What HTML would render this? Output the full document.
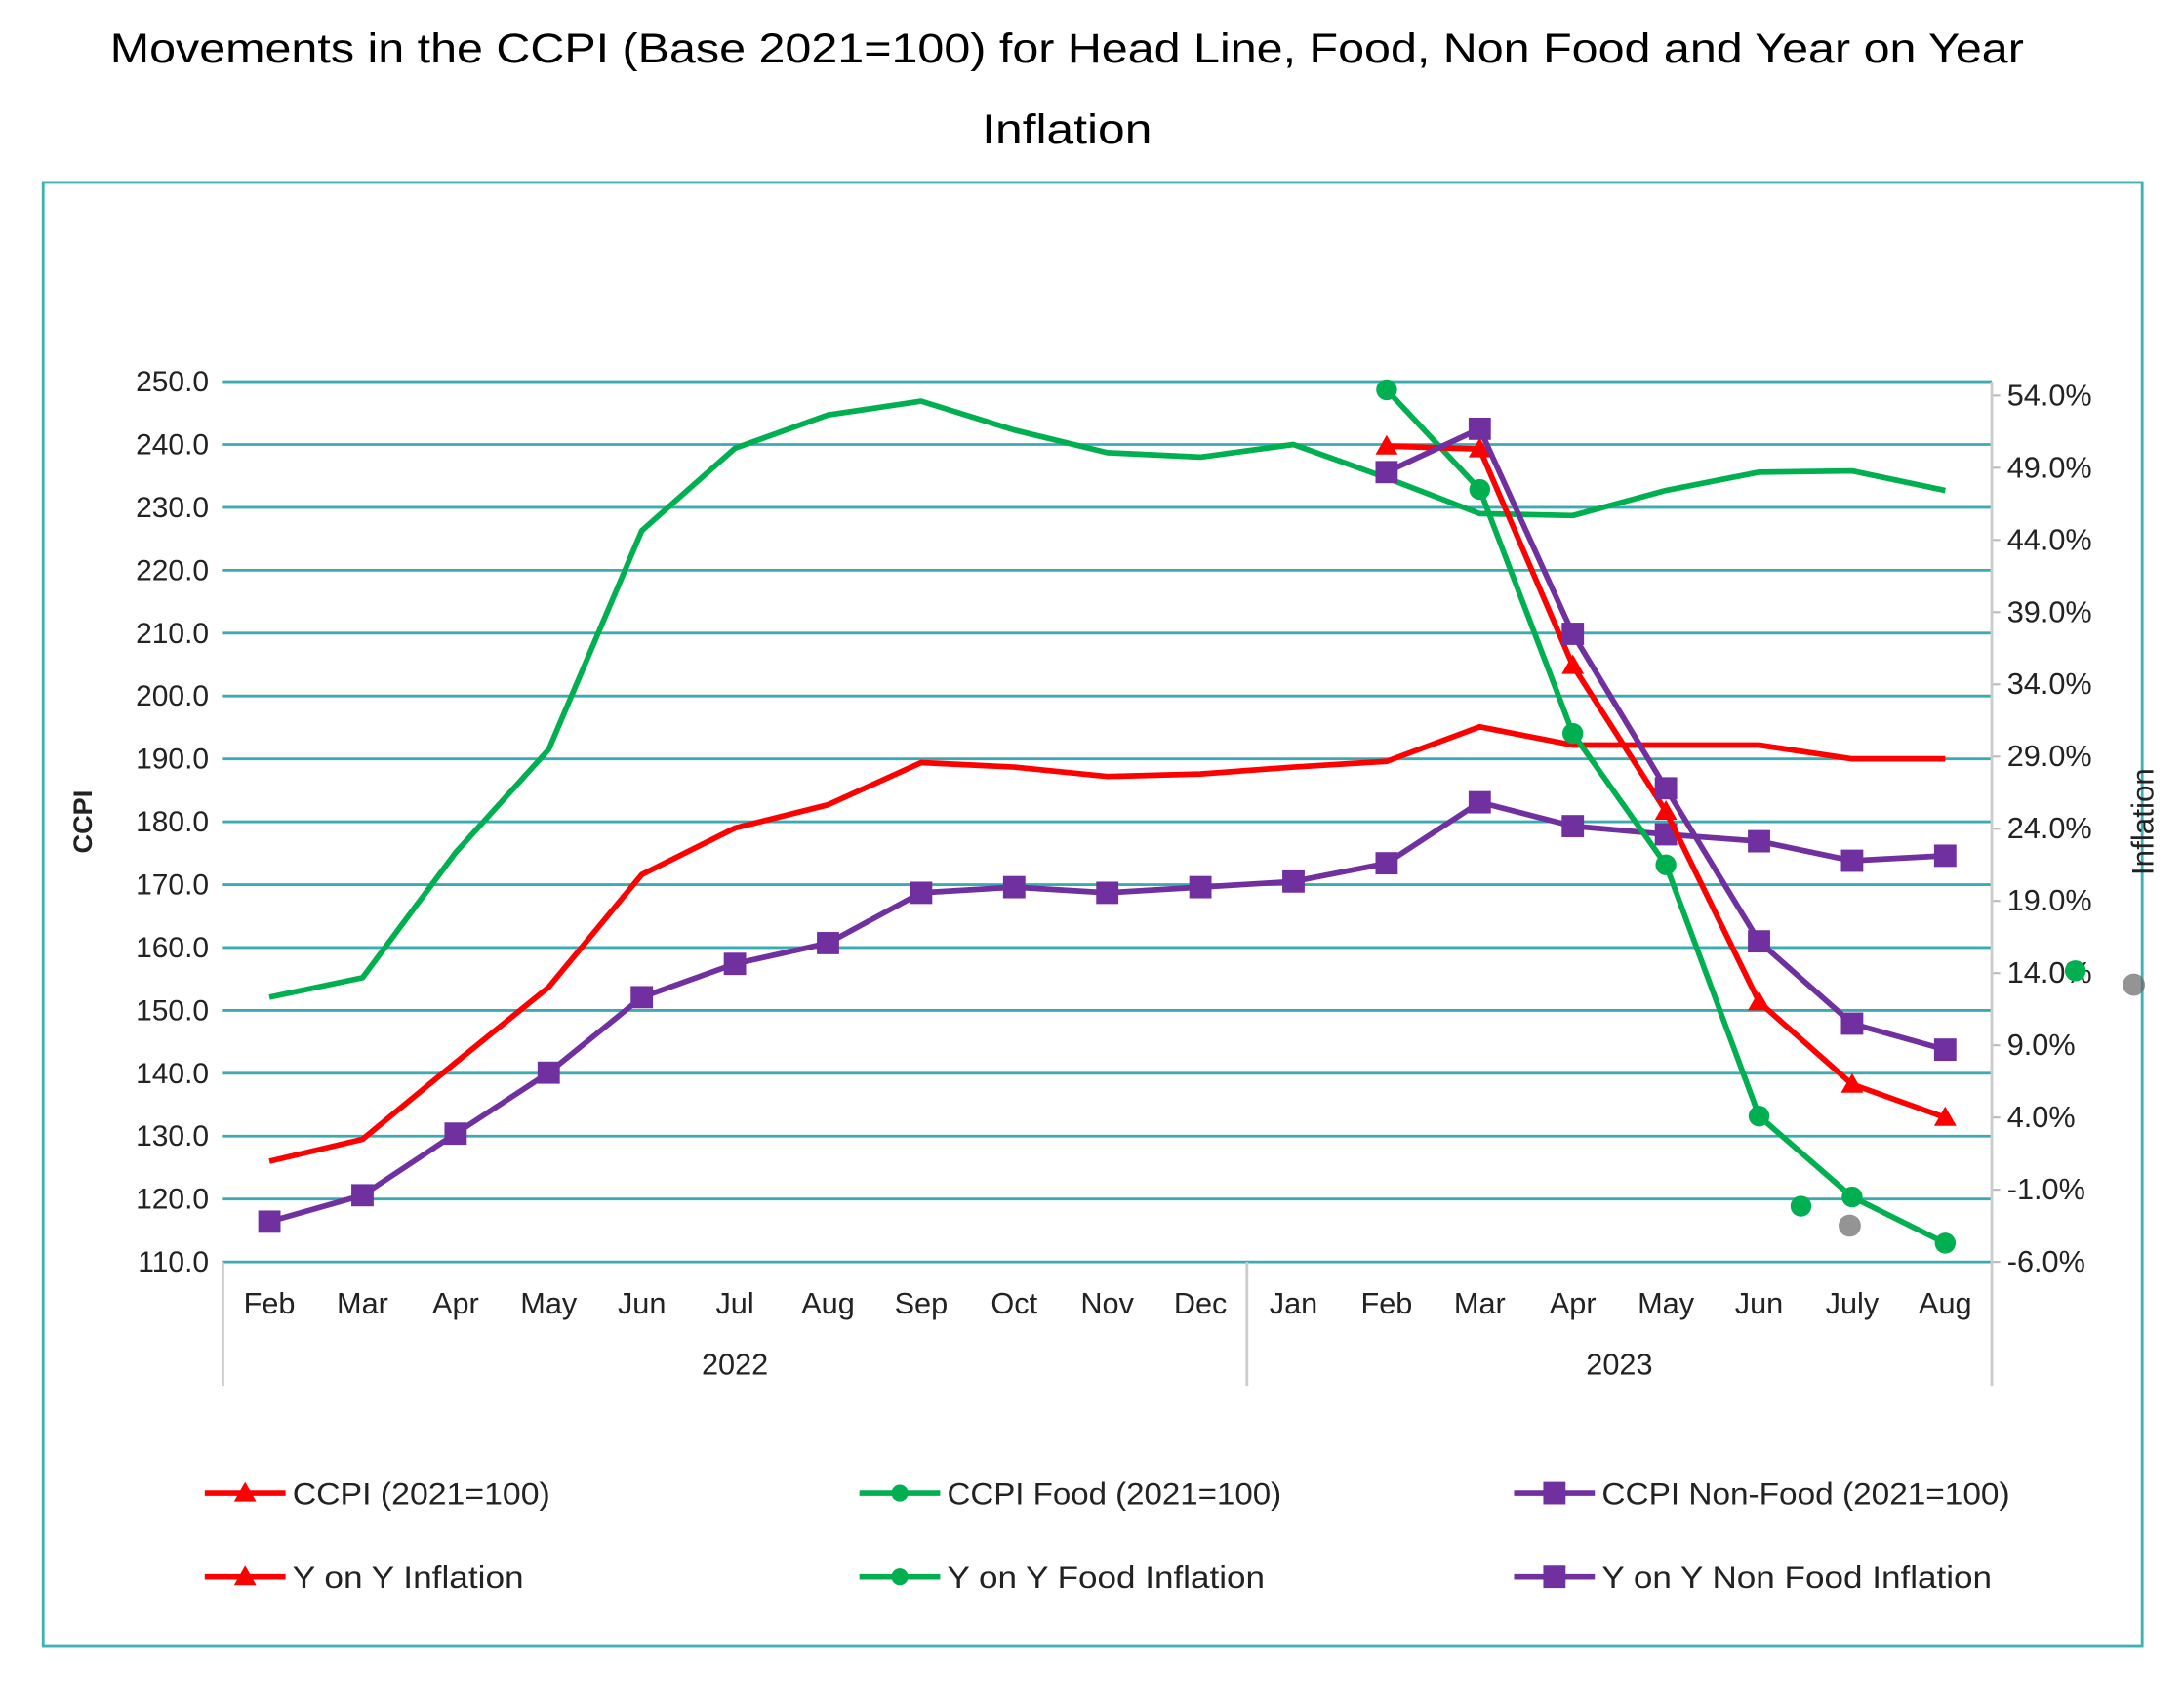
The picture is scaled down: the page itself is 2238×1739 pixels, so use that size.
<!DOCTYPE html>
<html><head><meta charset="utf-8"><style>
html,body{margin:0;padding:0;background:#fff;}
svg{display:block;font-family:"Liberation Sans",sans-serif;}
</style></head><body>
<svg id="chart" width="2238" height="1739" viewBox="0 0 1568 1218.4" preserveAspectRatio="none" xmlns="http://www.w3.org/2000/svg">
<text x="766" y="45" font-size="30" text-anchor="middle" fill="#000" textLength="1374" lengthAdjust="spacingAndGlyphs">Movements in the CCPI (Base 2021=100) for Head Line, Food, Non Food and Year on Year</text>
<text x="766" y="103" font-size="30" text-anchor="middle" fill="#000" textLength="122" lengthAdjust="spacingAndGlyphs">Inflation</text>
<rect x="31" y="131" width="1507" height="1051" fill="none" stroke="#3fb3b3" stroke-width="2"/>
<g id="grid"></g><g id="axes"></g><g id="series"></g><g id="legend"></g>
<text transform="translate(66,590) rotate(-90)" font-size="19" font-weight="bold" text-anchor="middle" fill="#222">CCPI</text>
<text transform="translate(1546,590) rotate(-90)" font-size="22" text-anchor="middle" fill="#222">Inflation</text>
</svg>
<script>
const months=["Feb","Mar","Apr","May","Jun","Jul","Aug","Sep","Oct","Nov","Dec","Jan","Feb","Mar","Apr","May","Jun","July","Aug"];
const years=["2022","2023"];
const leftTicks=[110,120,130,140,150,160,170,180,190,200,210,220,230,240,250];
const rightTicks=[-6,-1,4,9,14,19,24,29,34,39,44,49,54];
const ccpi=[126.0,129.5,141.7,153.7,171.6,179.0,182.7,189.4,188.7,187.2,187.6,188.7,189.6,195.1,192.2,192.2,192.2,190.0,190.0];
const ccpiFood=[152.1,155.2,175.1,191.5,226.3,239.4,244.7,246.9,242.3,238.7,238.0,240.0,234.7,229.0,228.7,232.7,235.6,235.8,232.7];
const ccpiNonFood=[116.4,120.6,130.4,140.1,152.1,157.4,160.7,168.7,169.6,168.7,169.6,170.5,173.4,183.1,179.3,178.0,176.9,173.8,174.6];
const yoyStart=12;
const yoyInfl=[50.5,50.3,35.3,25.2,12.0,6.3,4.0];
const yoyFood=[54.4,47.5,30.6,21.5,4.1,-1.5,-4.7];
const yoyNonFood=[48.7,51.7,37.5,26.8,16.2,10.5,8.7];

const NS="http://www.w3.org/2000/svg";
const X0=160,X1=1430,YB=906,YT=274;
const step=(X1-X0)/months.length;
const xs=i=>X0+step*(i+0.5);
const yL=v=>YB-(v-110)/(250-110)*(YB-YT);
const yR=v=>906-(v+6)/60*(906-284);
function mk(tag,attrs,parent,text){const e=document.createElementNS(NS,tag);for(const k in attrs)e.setAttribute(k,attrs[k]);if(text!==undefined)e.textContent=text;parent.appendChild(e);return e;}
const grid=document.getElementById('grid'),axes=document.getElementById('axes'),ser=document.getElementById('series'),leg=document.getElementById('legend');
leftTicks.forEach(t=>{
  const l=mk('line',{x1:X0,x2:X1,y1:yL(t),y2:yL(t),stroke:'#3aabb0','stroke-width':2},grid);
  
  
  const tx=mk('text',{x:150,y:yL(t)+7,'font-size':21,'text-anchor':'end',fill:'#222'},axes,t.toFixed(1));
  
  
});
rightTicks.forEach(t=>{
  const tx=mk('text',{x:1441,y:yR(t)+7,'font-size':21.5,fill:'#222'},axes,t.toFixed(1)+'%');
  
  
  mk('line',{x1:X1,x2:X1+6,y1:yR(t),y2:yR(t),stroke:'#bbb','stroke-width':1.5},axes);
});
mk('line',{x1:X1,x2:X1,y1:274,y2:995,stroke:'#ccc','stroke-width':2},axes);
[X0,X0+step*11].forEach(x=>mk('line',{x1:x,x2:x,y1:YB,y2:995,stroke:'#ccc','stroke-width':2},axes));
months.forEach((m,i)=>{
  const tx=mk('text',{x:xs(i),y:943,'font-size':21.5,'text-anchor':'middle',fill:'#222'},axes,m);
  
  
});
[[years[0],X0,X0+step*11],[years[1],X0+step*11,X1]].forEach(([y,a,b])=>{
  const tx=mk('text',{x:(a+b)/2,y:987,'font-size':21.5,'text-anchor':'middle',fill:'#222'},axes,y);
  
  
});
function marker(type,x,y,color,parent){
  if(type==='tri')return mk('polygon',{points:`${x},${y-8} ${x-8},${y+6} ${x+8},${y+6}`,fill:color},parent);
  if(type==='circ')return mk('circle',{cx:x,cy:y,r:7.5,fill:color},parent);
  if(type==='sq')return mk('rect',{x:x-8,y:y-8,width:16,height:16,fill:color},parent);
  return null;
}
function series(name,vals,start,yf,color,mtype){
  const g=mk('g',{},ser);
  
  
  const pts=vals.map((v,i)=>`${xs(i+start)},${yf(v)}`).join(' ');
  mk('polyline',{points:pts,fill:'none',stroke:color,'stroke-width':4,'stroke-linejoin':'round'},g);
  if(mtype)vals.forEach((v,i)=>{const m=marker(mtype,xs(i+start),yf(v),color,g);
    
    });
}
const RED='#ff0000',GRN='#00b050',PUR='#7030a0';
series('ccpi-line',ccpi,0,yL,RED,null);
series('ccpi-food-line',ccpiFood,0,yL,GRN,null);
series('ccpi-nonfood-line',ccpiNonFood,0,yL,PUR,'sq');
series('yoy-food-line',yoyFood,yoyStart,yR,GRN,'circ');
series('yoy-inflation-line',yoyInfl,yoyStart,yR,RED,'tri');
series('yoy-nonfood-line',yoyNonFood,yoyStart,yR,PUR,'sq');
mk('circle',{cx:1293,cy:866,r:7.5,fill:GRN},ser);
mk('circle',{cx:1490,cy:697,r:7.5,fill:GRN},ser);
mk('circle',{cx:1328,cy:880,r:8,fill:'#666',opacity:0.7},ser);
mk('circle',{cx:1532,cy:707,r:8,fill:'#666',opacity:0.7},ser);
const legendItems=[["CCPI  (2021=100)",RED,'tri',147,1072,185],["CCPI Food (2021=100)",GRN,'circ',617,1072,240],["CCPI Non-Food (2021=100)",PUR,'sq',1087,1072,293],
["Y on Y  Inflation",RED,'tri',147,1132,166],["Y on Y  Food Inflation",GRN,'circ',617,1132,228],["Y on Y  Non Food Inflation",PUR,'sq',1087,1132,280]];
legendItems.forEach(([t,c,m,x,y,w])=>{
  const g=mk('g',{},leg);
  
  
  mk('line',{x1:x,x2:x+58,y1:y,y2:y,stroke:c,'stroke-width':4},g);
  if(m==='circ')mk('circle',{cx:x+29,cy:y,r:6,fill:c},g);else marker(m,x+29,y,c,g);
  mk('text',{x:x+63,y:y+8,'font-size':22,fill:'#222',textLength:w,lengthAdjust:'spacingAndGlyphs'},g,t);
});
</script>
</body></html>
